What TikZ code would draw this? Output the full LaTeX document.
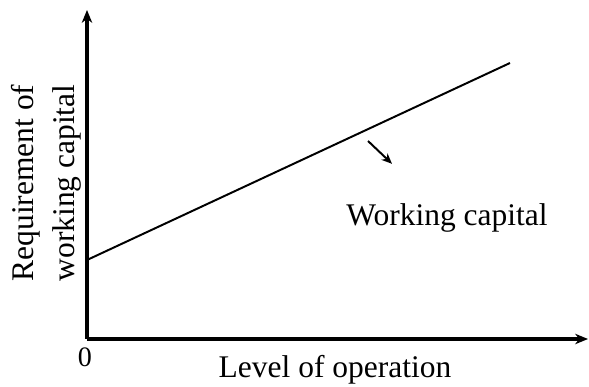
\documentclass[tikz,border=0pt]{standalone}
\usepackage{fontspec}
\setmainfont{Liberation Serif}
\usepackage{tikz}
\usetikzlibrary{arrows.meta,calc}
\tikzstyle{tsLabel} = [
    text=black,
    font=\fontsize{22.4}{29}\selectfont
]
\tikzstyle{tsSmallLabel} = [
    text=black,
    font=\fontsize{20}{24}\selectfont
]
\tikzstyle{tsAxis} = [
    draw=black,
    line width=2.2pt,
    -{Stealth[length=3.2mm,width=2.6mm,inset=1mm]}
]
\tikzstyle{tsCurve} = [
    draw=black,
    line width=1.4pt
]
\tikzstyle{tsPointer} = [
    tsCurve,
    -{Stealth[length=2.6mm,width=2.2mm,inset=0.8mm]}
]
\begin{document}
\begin{tikzpicture}
        \useasboundingbox (0,0) rectangle (14.725,9.675);

        \coordinate (origin) at (2.175,1.2);
        \coordinate (ytop) at (2.175,9.425);
        \coordinate (xend) at (14.7,1.2);
        \coordinate (wcstart) at (2.175,3.175);
        \coordinate (wcend) at (12.75,8.1);
        \coordinate (ptrstart) at (9.2,6.15);
        \coordinate (ptrend) at (9.8,5.58);

        \draw[tsAxis] (origin) -- (ytop);
        \draw[tsAxis] (origin) -- (xend);
        \draw[tsCurve] (wcstart) -- (wcend);
        \draw[tsPointer] (ptrstart) -- (ptrend);

        \node[tsLabel, anchor=base] (wclabel) at (11.175,4.025) {Working capital};
        \node[tsLabel, anchor=base] (xlabel) at (8.375,0.225) {Level of operation};
        \node[tsSmallLabel, anchor=base] (zero) at (2.125,0.5) {0};
        \node[tsLabel, rotate=90, align=center] (ylabel) at (1.16,5.1)
            {Requirement of\\working capital};

    \end{tikzpicture}
\end{document}
